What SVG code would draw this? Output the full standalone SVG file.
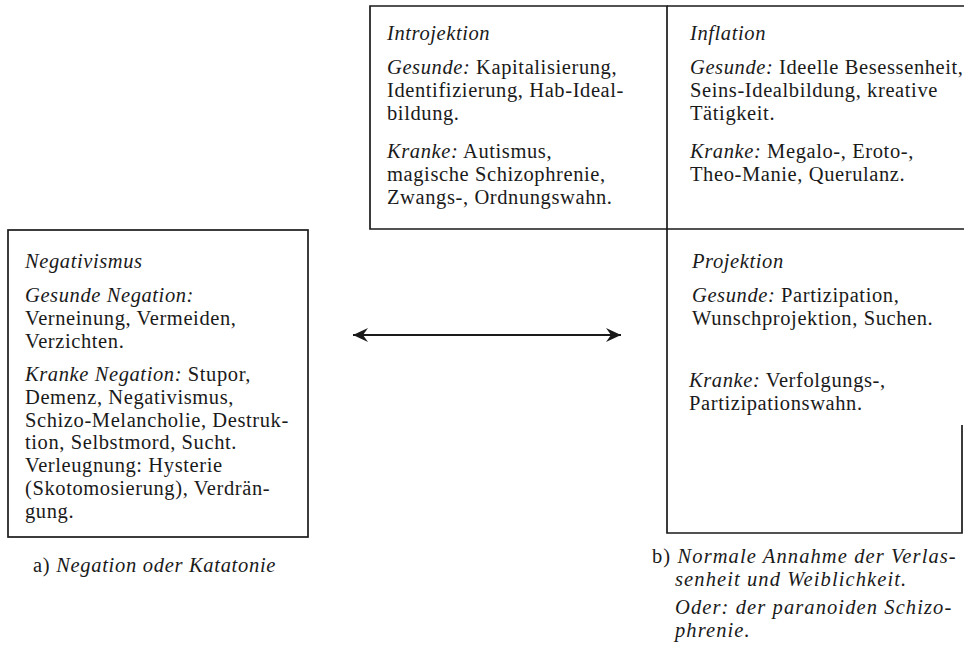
<svg xmlns="http://www.w3.org/2000/svg" width="964" height="645" viewBox="0 0 964 645">
<defs>
<style>
text { font-family: "Liberation Serif", "Times New Roman", serif; font-size: 20.5px; letter-spacing: 0.6px; fill: #1a1a1a; }
.i { font-style: italic; }
.cap { font-size: 20.5px; letter-spacing: 1.1px; }
.capa { font-size: 20.5px; letter-spacing: 0.7px; }
.box { fill: none; stroke: #1a1a1a; stroke-width: 1.7; }
.conn { stroke: #1a1a1a; stroke-width: 2; fill: none; }
</style>
<marker id="ah" markerUnits="userSpaceOnUse" markerWidth="16" markerHeight="14" refX="15" refY="7" orient="auto-start-reverse">
<path d="M0,0 L15,7 L0,14 L5,7 Z" fill="#1a1a1a"/>
</marker>
</defs>
<rect width="964" height="645" fill="#ffffff"/>

<g id="node-introjektion">
<path class="box" d="M370,6 H667 V229 H370 Z"/>
<text x="387" y="40" class="i">Introjektion</text>
<text x="387" y="74"><tspan class="i">Gesunde:</tspan> Kapitalisierung,</text>
<text x="387" y="96.8">Identifizierung, Hab-Ideal-</text>
<text x="387" y="119.6">bildung.</text>
<text x="387" y="158"><tspan class="i">Kranke:</tspan> Autismus,</text>
<text x="387" y="180.8">magische Schizophrenie,</text>
<text x="387" y="203.6">Zwangs-, Ordnungswahn.</text>
</g>

<g id="node-inflation">
<path class="box" d="M667,6 H964"/>
<text x="690" y="40" class="i">Inflation</text>
<text x="690" y="74"><tspan class="i">Gesunde:</tspan> Ideelle Besessenheit,</text>
<text x="690" y="96.8">Seins-Idealbildung, kreative</text>
<text x="690" y="119.6">Tätigkeit.</text>
<text x="690" y="158"><tspan class="i">Kranke:</tspan> Megalo-, Eroto-,</text>
<text x="690" y="180.8">Theo-Manie, Querulanz.</text>
</g>

<g id="node-projektion">
<path class="box" d="M667,229 H964 M667,229 V533 H962 V425"/>
<text x="692" y="268" class="i">Projektion</text>
<text x="692" y="302"><tspan class="i">Gesunde:</tspan> Partizipation,</text>
<text x="692" y="324.8">Wunschprojektion, Suchen.</text>
<text x="689" y="387"><tspan class="i">Kranke:</tspan> Verfolgungs-,</text>
<text x="689" y="409.8">Partizipationswahn.</text>
</g>

<g id="node-negativismus">
<rect class="box" x="8" y="230" width="300" height="307"/>
<text x="25" y="268" class="i">Negativismus</text>
<text x="25" y="302" class="i">Gesunde Negation:</text>
<text x="25" y="324.8">Verneinung, Vermeiden,</text>
<text x="25" y="347.6">Verzichten.</text>
<text x="25" y="381"><tspan class="i">Kranke Negation:</tspan> Stupor,</text>
<text x="25" y="403.8">Demenz, Negativismus,</text>
<text x="25" y="426.6">Schizo-Melancholie, Destruk-</text>
<text x="25" y="449.4">tion, Selbstmord, Sucht.</text>
<text x="25" y="472.2">Verleugnung: Hysterie</text>
<text x="25" y="495">(Skotomosierung), Verdrän-</text>
<text x="25" y="517.8">gung.</text>
</g>

<g id="connectors">
<line class="conn" x1="353" y1="335" x2="621" y2="335" marker-start="url(#ah)" marker-end="url(#ah)"/>
</g>

<g id="captions">
<text x="33" y="572" class="capa">a) <tspan class="i">Negation oder Katatonie</tspan></text>
<text x="652" y="563" class="cap">b) <tspan class="i">Normale Annahme der Verlas-</tspan></text>
<text x="675" y="586" class="cap i">senheit und Weiblichkeit.</text>
<text x="675" y="614" class="cap i">Oder: der paranoiden Schizo-</text>
<text x="675" y="637" class="cap i">phrenie.</text>
</g>
</svg>
